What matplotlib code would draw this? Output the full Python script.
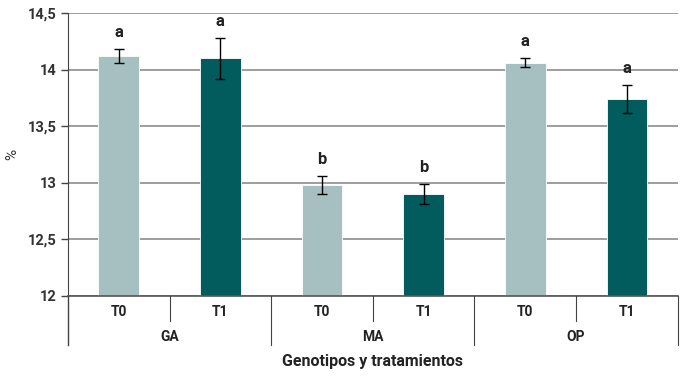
import matplotlib

matplotlib.use("Agg")
import matplotlib.pyplot as plt  # noqa: E402

plt.rcParams["font.family"] = ["Roboto", "DejaVu Sans"]

# data
groups = ["GA", "MA", "OP"]
treatments = ["T0", "T1"]
values = [14.12, 14.10, 12.98, 12.90, 14.06, 13.74]
errors = [0.06, 0.18, 0.08, 0.09, 0.04, 0.12]
letters = ["a", "a", "b", "b", "a", "a"]
yticks = [12, 12.5, 13, 13.5, 14, 14.5]

LIGHT, DARK, GRID = "#a6bfc0", "#025c5e", "#8c8c8c"
W = "semibold"

fig = plt.figure(figsize=(6.82, 3.77), dpi=100)
ax = fig.add_axes([0.0997, 0.2149, 0.894, 0.7506])

n = len(values)
x = list(range(n))
colors = [LIGHT if i % 2 == 0 else DARK for i in x]
ax.bar(x, [v - 12 for v in values], 0.4, bottom=12, color=colors, edgecolor="white",
       linewidth=0.6, zorder=2)
ax.errorbar(x, values, yerr=errors, fmt="none", ecolor="black", elinewidth=1,
            capsize=3.5, capthick=1, zorder=3)
for i in x:
    ax.text(i, values[i] + errors[i] + 0.08, letters[i], ha="center", va="bottom",
            fontsize=12, fontweight=W, color="#222222")

ax.set_xlim(-0.5, n - 0.5)
ax.set_ylim(12, 14.5)
ax.set_yticks(yticks)
ax.set_yticklabels([f"{t:g}".replace(".", ",") for t in yticks], fontsize=10.5,
                   fontweight=W, color="#333333")
ax.tick_params(axis="y", length=5, width=1, color="#444444", pad=3)
ax.set_xticks([])
ax.grid(axis="y", color=GRID, lw=1.2, zorder=0)
ax.set_axisbelow(True)
for s in ["top", "right", "bottom"]:
    ax.spines[s].set_visible(False)
ax.spines["left"].set_color("#444444")
ax.spines["left"].set_bounds(12, 14.5)
ax.set_ylabel("%", fontsize=11, color="#333333")
ax.yaxis.set_label_coords(-0.08, 0.5)

# grouped category axis below the plot
tr = ax.get_xaxis_transform()
ax.plot([-0.5, -0.5], [0, -0.173], transform=tr, color="#444444", lw=1, clip_on=False)
ax.plot([-0.5, n - 0.5], [0, 0], transform=tr, color="#555555", lw=1.2, clip_on=False)
for g in range(len(groups)):
    right = 2 * g + 1.5
    mid = 2 * g + 0.5
    ax.plot([right, right], [0, -0.173], transform=tr, color="#444444", lw=0.8, clip_on=False)
    ax.plot([mid, mid], [0, -0.09], transform=tr, color="#444444", lw=0.8, clip_on=False)
    for k, t in enumerate(treatments):
        ax.text(2 * g + k, -0.057, t, transform=tr, ha="center", va="center",
                fontsize=10, fontweight=W, color="#222222")
    ax.text(mid, -0.145, groups[g], transform=tr, ha="center", va="center",
            fontsize=10, fontweight=W, color="#222222")

ax.text((n - 1) / 2, -0.23, "Genotipos y tratamientos", transform=tr, ha="center",
        va="center", fontsize=11.5, fontweight=W, color="#222222")

fig.savefig("out.png", dpi=100)
